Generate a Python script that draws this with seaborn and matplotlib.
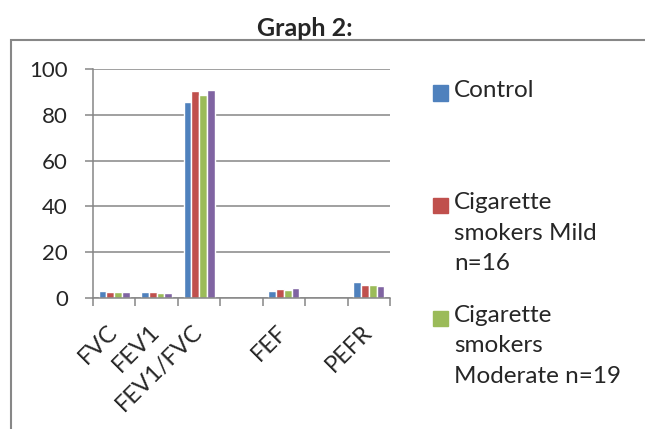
import numpy as np
import pandas as pd
import matplotlib
matplotlib.use("Agg")
import matplotlib.pyplot as plt
from matplotlib.patches import Rectangle
import seaborn as sns

sns.set_style("white")
plt.rcParams["font.family"] = ["Lato", "DejaVu Sans"]

# values
categories = ["FVC", "FEV1", "FEV1/FVC", "FEF", "PEFR"]
axis_order = ["FVC", "FEV1", "FEV1/FVC", " ", "FEF", "  ", "PEFR"]
control = [3.2, 2.5, 85.8, 3.2, 7.0]
mild = [2.8, 2.5, 90.4, 4.1, 5.8]
moderate = [2.6, 2.2, 88.7, 3.6, 5.8]
fourth = [2.5, 2.0, 90.8, 4.5, 5.4]

series_names = ["Control", "Cigarette\nsmokers Mild\nn=16",
                "Cigarette\nsmokers\nModerate n=19", "Series 4"]
colors = ["#4F81BD", "#C0504D", "#9BBB59", "#8064A2"]

df = pd.DataFrame({
    "test": categories * 4,
    "group": np.repeat(series_names, len(categories)),
    "value": control + mild + moderate + fourth,
})

fig = plt.figure(figsize=(6.45, 4.29), dpi=100)
ax = fig.add_axes([93 / 645, 1 - 298 / 429, 297 / 645, 229 / 429])

sns.barplot(data=df, x="test", y="value", hue="group", order=axis_order,
            hue_order=series_names, palette=colors, width=0.73,
            saturation=1, legend=False, ax=ax)

grid_c = "#868686"
ax.set_ylim(0, 100)
ax.set_xlim(-0.5, 6.5)
ax.set_yticks(range(0, 101, 20))
ax.yaxis.grid(True, color=grid_c, linewidth=1.1)
ax.set_axisbelow(True)
ax.set_xlabel("")
ax.set_ylabel("")
for s in ["top", "right"]:
    ax.spines[s].set_visible(False)
for s in ["left", "bottom"]:
    ax.spines[s].set_color(grid_c)
    ax.spines[s].set_linewidth(1.1)

ax.tick_params(axis="y", left=True, length=6, width=1.1, color=grid_c,
               labelsize=16, pad=12)
ax.set_xticks(np.arange(-0.5, 7, 1), minor=True)
ax.tick_params(axis="x", which="minor", bottom=True, length=6, width=1.1,
               color=grid_c)
ax.tick_params(axis="x", which="major", bottom=False, length=0, pad=22)
ax.set_xticks(range(len(axis_order)))
ax.set_xticklabels(axis_order, rotation=45, ha="right", va="center",
                   rotation_mode="anchor", fontsize=17)

# legend, spaced the way the original is (only the visible entries)
for i in range(3):
    y = 93 + i * 112.5
    fig.patches.append(Rectangle((433 / 645, 1 - (y + 7.5) / 429), 15 / 645, 15 / 429,
                                 transform=fig.transFigure, color=colors[i]))
    fig.text(454 / 645, 1 - (y - 13) / 429, series_names[i], fontsize=17.5,
             va="top", ha="left", linespacing=1.55)

# outer chart border
fig.patches.append(Rectangle((11 / 645, -0.2), 1.2, 1 - 40.5 / 429 + 0.2,
                             transform=fig.transFigure, fill=False,
                             edgecolor="#878787", linewidth=1.5))

fig.text(305 / 645, 1 - 28 / 429, "Graph 2:", fontsize=18, fontweight="bold",
         ha="center", va="center")

fig.savefig("out.png", dpi=100)
